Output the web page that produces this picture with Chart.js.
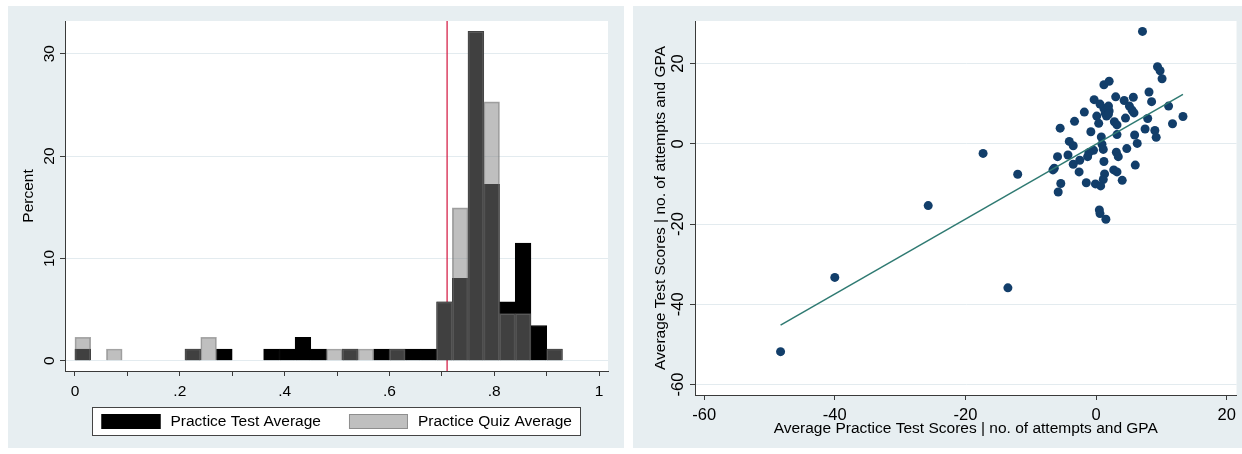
<!DOCTYPE html>
<html>
<head>
<meta charset="utf-8">
<title>Practice averages</title>
<script src="https://cdn.jsdelivr.net/npm/chart.js@4.4.1/dist/chart.umd.min.js"></script>
<style>
  html, body { margin: 0; padding: 0; background: #fff; }
  body { width: 1242px; height: 454px; position: relative; overflow: hidden; }
  .panel { position: absolute; top: 6px; height: 442px; background: #e7eef1; }
  #histPanel { left: 8px; width: 616px; }
  #scatPanel { left: 633px; width: 609px; }
  canvas { display: block; }
</style>
</head>
<body>
<div class="panel" id="histPanel"><canvas id="histChart" width="616" height="442"></canvas></div>
<div class="panel" id="scatPanel"><canvas id="scatChart" width="609" height="442"></canvas></div>
<script>
// Histogram data: bins of width .03 (bin midpoints), percent of students
const binMid = [0.015, 0.045, 0.075, 0.105, 0.135, 0.165, 0.195, 0.225, 0.255, 0.285,
  0.315, 0.345, 0.375, 0.405, 0.435, 0.465, 0.495, 0.525, 0.555, 0.585,
  0.615, 0.645, 0.675, 0.705, 0.735, 0.765, 0.795, 0.825, 0.855, 0.885, 0.915];
const testPct = [1.15, 0, 0, 0, 0, 0, 0, 1.15, 0, 1.15,
  0, 0, 1.15, 1.15, 2.3, 1.15, 0, 1.15, 0, 1.15,
  1.15, 1.15, 1.15, 5.75, 8.05, 32.18, 17.24, 5.75, 11.49, 3.45, 1.15];
const quizPct = [2.3, 0, 1.15, 0, 0, 0, 0, 1.15, 2.3, 0,
  0, 0, 0, 0, 0, 0, 1.15, 1.15, 1.15, 0,
  1.15, 0, 0, 5.75, 14.94, 32.18, 25.29, 4.6, 4.6, 0, 1.15];
const cutoff = 0.71;
const histXTicks = [0, 0.1, 0.2, 0.3, 0.4, 0.5, 0.6, 0.7, 0.8, 0.9, 1];
const histXLabels = ['0', '', '.2', '', '.4', '', '.6', '', '.8', '', '1'];
const histYTicks = [0, 10, 20, 30];

// Added-variable plot: residualised practice test vs test scores
const ptX = [7.1, 9.4, 9.8, 10.1, 1.2, 2.0, 8.1, 3.0, 5.7, 4.3,
  -0.3, 8.5, 5.1, 5.5, 11.1, -1.8, 1.2, 1.9, 1.4, 0.1,
  2.0, 1.6, -3.3, 0.4, 2.8, 3.2, 4.5, 7.9, 11.7, 13.3,
  -5.5, -0.8, 7.5, 9.0, 3.2, 5.9, 9.2, 0.8, -4.1, -3.5,
  0.9, 6.3, 4.7, -0.4, 1.1, -1.1, 3.1, 3.4, -5.9, -4.3,
  -1.3, -2.5, 1.2, -3.5, 6.0, -6.4, -6.6, 2.7, 3.2, -2.6,
  1.3, -12.0, 4.0, 1.1, -5.4, -1.5, -0.1, 0.7, -5.8, 0.5,
  0.6, 1.5, -17.3, -25.7, -40.0, -13.5, -48.3, 0.6, 1.9, 5.8];
const ptY = [28.0, 19.2, 18.2, 16.2, 14.7, 15.6, 12.9, 11.7, 11.6, 10.8,
  11.0, 10.5, 9.4, 8.4, 9.4, 7.9, 8.8, 9.4, 7.6, 6.9,
  8.2, 6.9, 5.6, 5.1, 5.5, 4.7, 6.4, 6.3, 5.0, 6.8,
  3.9, 3.0, 3.7, 3.3, 2.3, 2.2, 1.6, 1.7, 0.6, -0.5,
  -0.1, 0.1, -1.2, -1.6, -1.4, -2.2, -2.1, -3.2, -3.2, -2.8,
  -3.2, -4.1, -4.4, -5.1, -5.3, -6.1, -6.5, -6.5, -7.0, -7.0,
  -7.5, -7.6, -9.1, -8.9, -9.9, -9.7, -10.0, -10.5, -12.0, -16.5,
  -17.4, -18.8, -2.4, -15.4, -33.3, -35.9, -51.8, 9.9, 7.4, 7.7];
const fitX = [-48.3, 13.3];
const fitY = [-45.2, 12.3];
const scatTicks = [-60, -40, -20, 0, 20];

const axisColor = '#3a3a3a';
const gridColor = '#e3ebef';
const fontFamily = '"Liberation Sans", Arial, sans-serif';

Chart.defaults.font.family = fontFamily;
Chart.defaults.font.size = 15.5;
Chart.defaults.color = '#000';

// White plot region behind the marks
const plotBg = {
    id: 'plotBg',
    beforeDraw(chart) {
        const { ctx, chartArea: a } = chart;
        ctx.save();
        ctx.fillStyle = '#fff';
        ctx.fillRect(a.left, a.top, a.right - a.left, a.bottom - a.top);
        ctx.restore();
    }
};

// Stata style legend: framed white box under the plot, one row of keys
const boxLegend = {
    id: 'boxLegend',
    afterDraw(chart, args, opts) {
        const { ctx, chartArea: a } = chart;
        const items = opts.order.map(i => chart.data.datasets[i]);
        const sw = 59, sh = 15, gap = 10, itemGap = 28, pad = 9, boxH = 28;

        ctx.save();
        ctx.font = opts.fontSize + 'px ' + fontFamily;
        const widths = items.map(d => sw + gap + ctx.measureText(d.label).width);
        const total = widths.reduce((s, w) => s + w, 0) + itemGap * (items.length - 1);
        const boxL = Math.round((a.left + a.right) / 2 - total / 2 - pad) + 0.5;
        const boxT = Math.round(a.bottom + opts.offset) + 0.5;
        const boxW = Math.round(total + pad * 2);

        ctx.fillStyle = '#fff';
        ctx.fillRect(boxL, boxT, boxW, boxH);
        ctx.strokeStyle = '#444';
        ctx.lineWidth = 1;
        ctx.strokeRect(boxL, boxT, boxW, boxH);

        let x = boxL + pad;
        const sy = boxT + (boxH - sh) / 2;
        items.forEach((d, i) => {
            ctx.fillStyle = d.backgroundColor;
            ctx.fillRect(x, sy, sw, sh);
            ctx.strokeStyle = d.borderColor;
            ctx.strokeRect(x + 0.5, sy + 0.5, sw - 1, sh - 1);
            ctx.fillStyle = '#000';
            ctx.textBaseline = 'middle';
            ctx.textAlign = 'left';
            ctx.fillText(d.label, x + sw + gap, sy + sh / 2 + 0.5);
            x += widths[i] + itemGap;
        });
        ctx.restore();
    }
};

// Left panel: overlaid histograms
new Chart(document.getElementById('histChart'), {
    type: 'bar',
    data: {
        datasets: [
            {
                label: 'Practice Quiz Average',
                data: binMid.map((x, i) => ({ x: x, y: quizPct[i] })),
                backgroundColor: 'rgba(128,128,128,0.5)',
                borderColor: 'rgba(110,110,110,0.6)',
                borderWidth: 1,
                order: 0
            },
            {
                label: 'Practice Test Average',
                data: binMid.map((x, i) => ({ x: x, y: testPct[i] })),
                backgroundColor: '#000',
                borderColor: '#000',
                borderWidth: 1,
                order: 1
            },
            {
                type: 'line',
                label: 'cutoff',
                data: [{ x: cutoff, y: -1 }, { x: cutoff, y: 33.2 }],
                borderColor: '#d2123c',
                borderWidth: 1.2,
                pointRadius: 0,
                order: 2
            }
        ]
    },
    options: {
        responsive: false,
        animation: false,
        barPercentage: 1,
        categoryPercentage: 1,
        grouped: false,
        layout: { padding: { top: 15, right: 16, bottom: 0, left: 0 } },
        plugins: {
            tooltip: { enabled: false },
            legend: { display: false },
            boxLegend: { order: [1, 0], offset: 36, fontSize: 15.5 }
        },
        scales: {
            x: {
                type: 'linear',
                min: -0.019,
                max: 1.017,
                offset: false,
                afterBuildTicks: s => { s.ticks = histXTicks.map(v => ({ value: v })); },
                afterFit: s => { s.height = 77; },
                grid: { offset: false, drawOnChartArea: false, tickLength: 5, tickColor: axisColor },
                border: { color: axisColor },
                ticks: { autoSkip: false, maxRotation: 0, padding: 6, callback: (v, i) => histXLabels[i] }
            },
            y: {
                min: -1,
                max: 33.2,
                afterBuildTicks: s => { s.ticks = histYTicks.map(v => ({ value: v })); },
                afterFit: s => { s.width = 57; },
                grid: { color: gridColor, tickColor: axisColor, tickLength: 5 },
                border: { color: axisColor },
                ticks: { minRotation: 90, maxRotation: 90, crossAlign: 'center', padding: 2 },
                title: { display: true, text: 'Percent', padding: { top: 11, bottom: 0 } }
            }
        }
    },
    plugins: [plotBg, boxLegend]
});

// Right panel: scatter with fitted line
new Chart(document.getElementById('scatChart'), {
    type: 'scatter',
    data: {
        datasets: [
            {
                type: 'line',
                label: 'Fitted values',
                data: fitX.map((x, i) => ({ x: x, y: fitY[i] })),
                borderColor: '#2f7a72',
                borderWidth: 1.5,
                pointRadius: 0,
                order: 0
            },
            {
                label: 'Average Test Scores',
                data: ptX.map((x, i) => ({ x: x, y: ptY[i] })),
                backgroundColor: '#123e6a',
                borderColor: '#123e6a',
                borderWidth: 0,
                pointRadius: 4.5,
                order: 1
            }
        ]
    },
    options: {
        responsive: false,
        animation: false,
        layout: { padding: { top: 15, right: 5, bottom: 0, left: 0 } },
        plugins: {
            tooltip: { enabled: false },
            legend: { display: false }
        },
        scales: {
            x: {
                type: 'linear',
                min: -61.4,
                max: 21.5,
                afterBuildTicks: s => { s.ticks = scatTicks.map(v => ({ value: v })); },
                afterFit: s => { s.height = 53; },
                grid: { drawOnChartArea: false, tickLength: 5, tickColor: axisColor },
                border: { color: axisColor },
                ticks: { autoSkip: false, maxRotation: 0, padding: 6, font: { size: 16.5 } },
                title: { display: true, text: 'Average Practice Test Scores | no. of attempts and GPA', padding: { top: 0, bottom: 10 } }
            },
            y: {
                min: -62.6,
                max: 30.6,
                afterBuildTicks: s => { s.ticks = scatTicks.map(v => ({ value: v })); },
                afterFit: s => { s.width = 62; },
                grid: { color: gridColor, tickColor: axisColor, tickLength: 5 },
                border: { color: axisColor },
                ticks: { minRotation: 90, maxRotation: 90, crossAlign: 'center', padding: 0, font: { size: 16.5 } },
                title: { display: true, text: 'Average Test Scores | no. of attempts and GPA', padding: { top: 18, bottom: 0 } }
            }
        }
    },
    plugins: [plotBg]
});
</script>
</body>
</html>
